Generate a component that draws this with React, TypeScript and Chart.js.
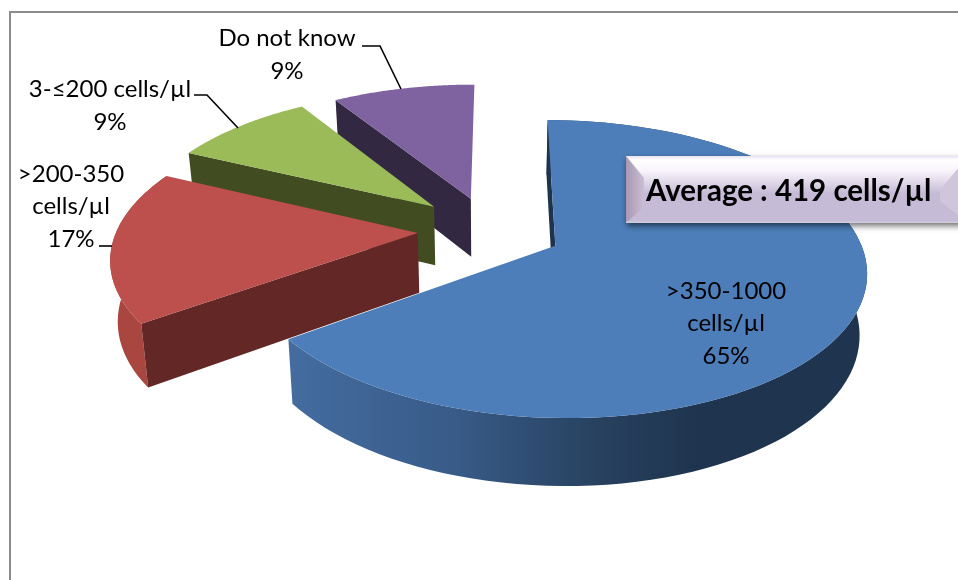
import React, { useEffect, useRef } from "react";
import { Chart, registerables } from "chart.js";

Chart.register(...registerables);

// Chart data
const categories = [">350-1000 cells/µl", ">200-350 cells/µl", "3-≤200 cells/µl", "Do not know"];
const shares = [65, 17, 9, 9];
const slicePull = [0.24, 0.24, 0.255, 0.24];

// Surface colours per slice
const topColors = ["#4d7eb9", "#bd4f4c", "#9bbb59", "#7f62a0"];
const cutColors = ["#1e344d", "#632826", "#414c21", "#322842"];
const rimColors = ["#1f344e", "#a8463f", "#6f8a3f", "#5b4675"];

// Text layout
const labelLines = [
  [">350-1000", "cells/µl", "65%"],
  [">200-350", "cells/µl", "17%"],
  ["3-≤200 cells/µl", "9%"],
  ["Do not know", "9%"],
];
const labelAnchors = [
  { x: 726, y: 291, step: 32.5 },
  { x: 71, y: 174, step: 32.5 },
  { x: 110, y: 89, step: 33 },
  { x: 287, y: 38, step: 33 },
];
const leaders = [
  null,
  [[99, 246], [112, 246]],
  [[194, 95], [207, 95], [238, 128]],
  [[362, 46], [380, 46], [401, 89]],
];
const noteText = "Average : 419 cells/µl";
const FONT = "Lato, 'Open Sans', sans-serif";

// Perspective model of the disc
const CX = 490;
const CY = 230;
const RX = 301;
const RY = 140.5;
const PERSP = 0.154;
const DEPTH = 59.5;
const FLOOR_SCALE = 0.98;

type Pt = [number, number];

const top3d = (u: number, v: number): Pt => {
  const w = 1 - PERSP * v;
  return [CX + (RX * u) / w, CY + (RY * v) / w];
};
const bottom3d = (u: number, v: number): Pt => {
  const w = 1 - PERSP * v;
  const [x, y] = top3d(u, v);
  return [CX + (x - CX) * FLOOR_SCALE, CY + (y - CY) * FLOOR_SCALE + DEPTH / w];
};

const fillPoly = (ctx: CanvasRenderingContext2D, pts: Pt[], fill: string | CanvasGradient) => {
  ctx.beginPath();
  pts.forEach(([x, y], i) => (i ? ctx.lineTo(x, y) : ctx.moveTo(x, y)));
  ctx.closePath();
  ctx.fillStyle = fill;
  ctx.fill();
};

const pie3d = {
  id: "pie3d",
  beforeDatasetsDraw(chart: Chart) {
    const ctx = chart.ctx;
    const arcs = chart.getDatasetMeta(0).data as any[];
    // Far slices first so nearer ones paint over them
    [3, 2, 1, 0].forEach((i) => {
      const { startAngle, endAngle } = arcs[i];
      const mid = (startAngle + endAngle) / 2;
      const ou = slicePull[i] * Math.cos(mid);
      const ov = slicePull[i] * Math.sin(mid);
      const angles: number[] = [];
      const steps = 96;
      for (let s = 0; s <= steps; s++) angles.push(startAngle + ((endAngle - startAngle) * s) / steps);
      const rimTop = angles.map((a) => top3d(ou + Math.cos(a), ov + Math.sin(a)));
      const rimBot = angles.map((a) => bottom3d(ou + Math.cos(a), ov + Math.sin(a)));
      const apexTop = top3d(ou, ov);
      const apexBot = bottom3d(ou, ov);

      // Outer wall, skipped for slices whose rim faces away from the viewer
      if (Math.sin(mid) > -0.5) {
        let rim: string | CanvasGradient = rimColors[i];
        if (i === 0) {
          const g = ctx.createLinearGradient(291, 0, 700, 0);
          g.addColorStop(0, "#446c9f");
          g.addColorStop(0.4, "#385b88");
          g.addColorStop(0.75, "#27415f");
          g.addColorStop(1, "#1f344e");
          rim = g;
        }
        fillPoly(ctx, [...rimTop, ...rimBot.slice().reverse()], rim);
      }

      // Cut faces that turn towards the viewer
      if (Math.cos(startAngle) < 0.05) fillPoly(ctx, [apexTop, rimTop[0], rimBot[0], apexBot], cutColors[i]);
      if (Math.cos(endAngle) > 0.05) fillPoly(ctx, [apexTop, rimTop[steps], rimBot[steps], apexBot], cutColors[i]);

      // Top surface
      fillPoly(ctx, [apexTop, ...rimTop], topColors[i]);
    });
    return false;
  },
  afterDraw(chart: Chart) {
    const ctx = chart.ctx;
    ctx.save();

    // Slice labels and their leader lines
    ctx.fillStyle = "#000";
    ctx.textAlign = "center";
    ctx.textBaseline = "middle";
    ctx.font = `24px ${FONT}`;
    labelLines.forEach((lines, i) => {
      const a = labelAnchors[i];
      lines.forEach((t, n) => ctx.fillText(t, a.x, a.y + n * a.step));
    });
    ctx.strokeStyle = "#000";
    ctx.lineWidth = 1.6;
    leaders.forEach((pts) => {
      if (!pts) return;
      ctx.beginPath();
      pts.forEach(([x, y], n) => (n ? ctx.lineTo(x, y) : ctx.moveTo(x, y)));
      ctx.stroke();
    });

    // Bevelled note box
    const L = 626, T = 156, R = 968, B = 223, BW = 18;
    ctx.save();
    ctx.shadowColor = "rgba(0,0,0,0.55)";
    ctx.shadowBlur = 6;
    ctx.shadowOffsetY = 3;
    ctx.shadowOffsetX = 1;
    ctx.fillStyle = "#c6bbd6";
    ctx.fillRect(L, T, R - L, B - T);
    ctx.restore();

    const face = ctx.createLinearGradient(0, T, 0, B);
    face.addColorStop(0, "#e9e1f1");
    face.addColorStop(0.06, "#ffffff");
    face.addColorStop(0.22, "#f8f4fb");
    face.addColorStop(0.42, "#dcd3e6");
    face.addColorStop(0.56, "#c6bbd6");
    face.addColorStop(1, "#c6bbd6");
    ctx.fillStyle = face;
    ctx.fillRect(L, T, R - L, B - T);

    const left = ctx.createLinearGradient(L, 0, L + BW, 0);
    left.addColorStop(0, "#a898b2");
    left.addColorStop(1, "#c9bed4");
    fillPoly(ctx, [[L, T], [L + BW, T + 22], [L + BW, B - 16], [L, B]], left);
    fillPoly(ctx, [[R, T], [R - 28, T + 34], [R - 28, B - 22], [R, B]], "#d0c6dc");
    ctx.fillStyle = "#d2c9de";
    ctx.fillRect(L, B - 1.5, R - L, 1.5);

    ctx.fillStyle = "#000";
    ctx.font = `bold 29.5px ${FONT}`;
    ctx.textAlign = "left";
    ctx.fillText(noteText, 646, 191);
    ctx.restore();
  },
};

// Frame around the chart area; its right and bottom sides run off the page
const frame = {
  id: "frame",
  beforeDraw(chart: Chart) {
    const ctx = chart.ctx;
    ctx.save();
    ctx.strokeStyle = "#8c8c8c";
    ctx.lineWidth = 2;
    ctx.beginPath();
    ctx.moveTo(10, 590);
    ctx.lineTo(10, 12);
    ctx.lineTo(970, 12);
    ctx.stroke();
    ctx.restore();
  },
};

export default function App() {
  const ref = useRef<HTMLCanvasElement>(null);
  useEffect(() => {
    const chart = new Chart(ref.current!, {
      type: "pie",
      data: {
        labels: categories,
        datasets: [{ data: shares, backgroundColor: topColors }],
      },
      options: {
        responsive: false,
        animation: false,
        rotation: 0.25,
        events: [],
        plugins: { legend: { display: false }, tooltip: { enabled: false } },
      },
      plugins: [frame, pie3d],
    });
    return () => chart.destroy();
  }, []);
  return (
    <div style={{ position: "fixed", left: 0, top: 0, width: 958, height: 580, background: "#fff" }}>
      <canvas ref={ref} width={958} height={580} style={{ display: "block" }} />
    </div>
  );
}
